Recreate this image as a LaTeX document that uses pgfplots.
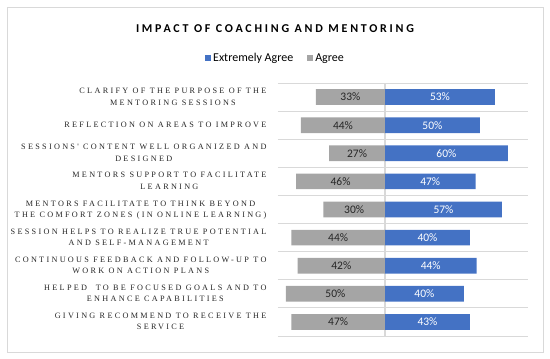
\documentclass[border=0pt]{standalone}
\usepackage{fontspec}
\setmainfont{Carlito}
\newfontfamily\labelfont{Liberation Serif}[LetterSpace=28]
\newfontfamily\titlefont{Carlito}[LetterSpace=23]
\usepackage{pgfplots}
\usepackage{pgfplotstable}
\pgfplotsset{compat=1.18}
\definecolor{eablue}{HTML}{4472C4}
\definecolor{aggray}{HTML}{A5A5A5}
\definecolor{gridc}{HTML}{D9D9D9}
\newcommand\lab[1]{\begin{tabular}{@{}c@{}}#1\end{tabular}}

\pgfplotstableread{
y ea eal ag agl
0 53.7 53 33.7 33
1 46.3 50 41.0 44
2 60.0 60 27.2 27
3 44.2 47 43.3 46
4 57.1 57 30.1 30
5 41.5 40 45.7 44
6 44.7 44 42.6 42
7 38.5 40 48.4 50
8 41.5 43 45.7 47
}\datatable

\begin{document}
\begin{tikzpicture}
\path (0pt,0pt) rectangle (550pt,359pt);
\draw[gridc, line width=0.8pt] (7pt,7pt) rectangle (543pt,352pt);
\begin{axis}[
  at={(278pt,23pt)}, anchor=south west,
  scale only axis, width=250pt, height=253pt,
  xmin=-52.2, xmax=69.8, ymin=-0.5, ymax=8.5, y dir=reverse,
  axis line style={draw=none},
  major tick length=0pt, minor tick length=0pt,
  xtick=\empty,
  extra x ticks={0}, extra x tick labels={},
  extra x tick style={grid=major, major grid style={gridc, line width=1.6pt}},
  ytick={0,...,8},
  minor ytick={-0.5,0.5,1.5,2.5,3.5,4.5,5.5,6.5,7.5,8.5},
  yminorgrids=true,
  minor grid style={gridc, line width=0.8pt},
  yticklabels={
    {\lab{CLARIFY OF THE PURPOSE OF THE\\MENTORING SESSIONS}},
    {\lab{REFLECTION ON AREAS TO IMPROVE}},
    {\lab{SESSIONS' CONTENT WELL ORGANIZED AND\\DESIGNED}},
    {\lab{MENTORS SUPPORT TO FACILITATE\\LEARNING}},
    {\lab{MENTORS FACILITATE TO THINK BEYOND\\THE COMFORT ZONES (IN ONLINE LEARNING)}},
    {\lab{SESSION HELPS TO REALIZE TRUE POTENTIAL\\AND SELF-MANAGEMENT}},
    {\lab{CONTINUOUS FEEDBACK AND FOLLOW-UP TO\\WORK ON ACTION PLANS}},
    {\lab{HELPED\ \ TO BE FOCUSED GOALS AND TO\\ENHANCE CAPABILITIES}},
    {\lab{GIVING RECOMMEND TO RECEIVE THE\\SERVICE}}
  },
  yticklabel style={font=\labelfont\fontsize{8.2}{11.5}\selectfont, text=black!85, xshift=-8pt},
  legend style={at={(-0.01,1.098)}, anchor=center, draw=none, fill=none,
    legend columns=2, font=\fontsize{12}{14}\selectfont,
    /tikz/every even column/.append style={column sep=12pt}},
  legend image code/.code={\fill[#1] (0pt,-3pt) rectangle (6pt,3pt);},
]
\addplot[xbar, bar width=15.7pt, bar shift=0pt, fill=eablue, draw=none]
  table[x=ea, y=y] {\datatable};
\addlegendentry{Extremely Agree}
\addplot[xbar, bar width=15.7pt, bar shift=0pt, fill=aggray, draw=none]
  table[x expr=-\thisrow{ag}, y=y] {\datatable};
\addlegendentry{Agree}
\addplot[forget plot, draw=none, mark=none, nodes near coords={\pgfplotspointmeta\%},
  point meta=explicit symbolic, nodes near coords align=center,
  every node near coord/.append style={anchor=center, font=\fontsize{11.5}{13}\selectfont, text=white}]
  table[x expr=\thisrow{ea}/2, y=y, meta=eal] {\datatable};
\addplot[forget plot, draw=none, mark=none, nodes near coords={\pgfplotspointmeta\%},
  point meta=explicit symbolic, nodes near coords align=center,
  every node near coord/.append style={anchor=center, font=\fontsize{11.5}{13}\selectfont, text=black!85}]
  table[x expr=-\thisrow{ag}/2, y=y, meta=agl] {\datatable};
\end{axis}
\node[font=\titlefont\bfseries\fontsize{12}{14}\selectfont] at (275pt,330pt) {IMPACT OF COACHING AND MENTORING};
\end{tikzpicture}
\end{document}
